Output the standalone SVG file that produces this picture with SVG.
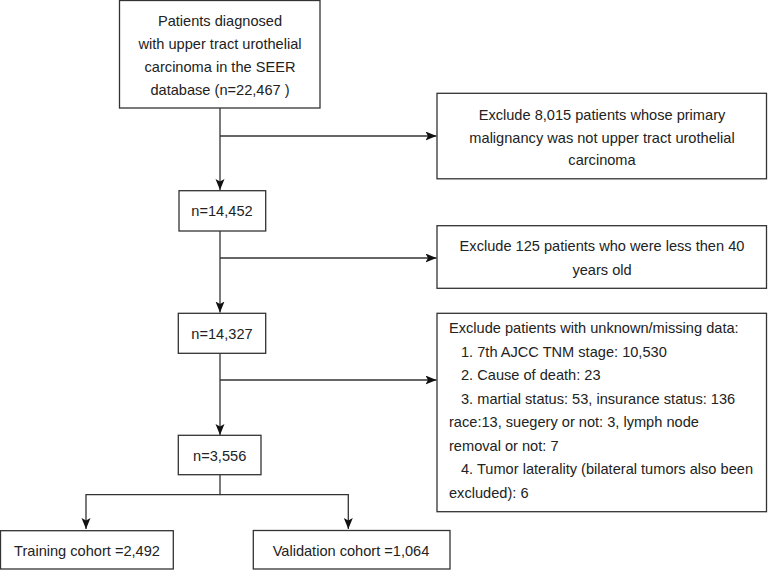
<svg xmlns="http://www.w3.org/2000/svg" width="768" height="570" viewBox="0 0 768 570">
<defs>
<style>
.box{fill:#fff;stroke:#333;stroke-width:1.3}
.t{font-family:"Liberation Sans",Arial,sans-serif;font-size:14.6px;fill:#222}
.c{text-anchor:middle}
.ln{fill:none;stroke:#333;stroke-width:1.3}
</style>
<marker id="ah" markerWidth="12" markerHeight="10" refX="11" refY="4.5" orient="auto" markerUnits="userSpaceOnUse">
<path d="M0,0 L11,4.5 L0,9 L2.5,4.5 z" fill="#111"/>
</marker>
</defs>
<rect width="768" height="570" fill="#fff"/>
<g id="connectors">
<line class="ln" x1="220" y1="108" x2="220" y2="190" marker-end="url(#ah)"/>
<line class="ln" x1="220" y1="136" x2="436.5" y2="136" marker-end="url(#ah)"/>
<line class="ln" x1="220" y1="231" x2="220" y2="312.5" marker-end="url(#ah)"/>
<line class="ln" x1="220" y1="258" x2="436.5" y2="258" marker-end="url(#ah)"/>
<line class="ln" x1="220" y1="353.5" x2="220" y2="435" marker-end="url(#ah)"/>
<line class="ln" x1="220" y1="380" x2="436.5" y2="380" marker-end="url(#ah)"/>
<path class="ln" d="M220,474.7 V494.7 H86 V529" marker-end="url(#ah)"/>
<path class="ln" d="M220,494.7 H348.3 V529" marker-end="url(#ah)"/>
</g>
<g id="n-start">
<rect class="box" x="119.5" y="0.5" width="200.5" height="107.5"/>
<text class="t c" x="220" y="26">Patients diagnosed</text>
<text class="t c" x="220" y="49">with upper tract urothelial</text>
<text class="t c" x="220" y="72">carcinoma in the SEER</text>
<text class="t c" x="220" y="95">database (n=22,467 )</text>
</g>
<g id="n-ex1">
<rect class="box" x="437" y="93.3" width="329.5" height="85.5"/>
<text class="t c" x="602" y="120">Exclude 8,015 patients whose primary</text>
<text class="t c" x="602" y="142.5">malignancy was not upper tract urothelial</text>
<text class="t c" x="602" y="165">carcinoma</text>
</g>
<g id="n-14452">
<rect class="box" x="179" y="190.7" width="86.7" height="40.3"/>
<text class="t c" x="222" y="216">n=14,452</text>
</g>
<g id="n-ex2">
<rect class="box" x="437" y="225.7" width="329.5" height="62.6"/>
<text class="t c" x="602" y="251">Exclude 125 patients who were less then 40</text>
<text class="t c" x="602" y="275">years old</text>
</g>
<g id="n-14327">
<rect class="box" x="178.3" y="313.3" width="87.4" height="40"/>
<text class="t c" x="222" y="338.5">n=14,327</text>
</g>
<g id="n-ex3">
<rect class="box" x="437" y="313.3" width="329.5" height="198.4"/>
<text class="t" x="449" y="333">Exclude patients with unknown/missing data:</text>
<text class="t" x="461" y="356.5">1. 7th AJCC TNM stage: 10,530</text>
<text class="t" x="461" y="380">2. Cause of death: 23</text>
<text class="t" x="461" y="403.5">3. martial status: 53, insurance status: 136</text>
<text class="t" x="449" y="427">race:13, suegery or not: 3, lymph node</text>
<text class="t" x="449" y="450.5">removal or not: 7</text>
<text class="t" x="461" y="474">4. Tumor laterality (bilateral tumors also been</text>
<text class="t" x="449" y="497.5">excluded): 6</text>
</g>
<g id="n-3556">
<rect class="box" x="178.3" y="435.3" width="82.7" height="39.4"/>
<text class="t c" x="219.7" y="461">n=3,556</text>
</g>
<g id="n-train">
<rect class="box" x="0.5" y="530.7" width="172.8" height="38.3"/>
<text class="t c" x="87" y="555.5">Training cohort =2,492</text>
</g>
<g id="n-valid">
<rect class="box" x="253.3" y="530.5" width="196.7" height="38.5"/>
<text class="t c" x="351" y="555.5">Validation cohort =1,064</text>
</g>
</svg>
